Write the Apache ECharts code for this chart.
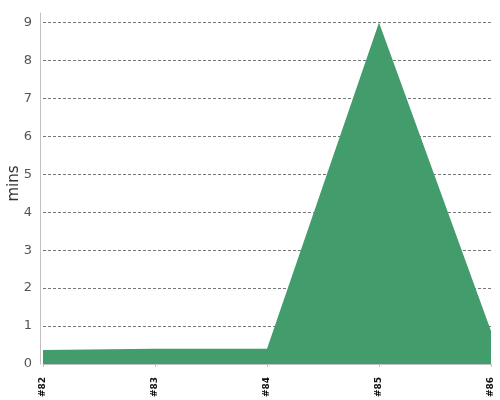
<!DOCTYPE html>
<html>
<head>
<meta charset="utf-8">
<script src="https://cdn.jsdelivr.net/npm/echarts@6/dist/echarts.min.js"></script>
<style>
  html, body { margin: 0; padding: 0; background: #fff; }
  #chart { width: 500px; height: 400px; }
</style>
</head>
<body>
<div id="chart"></div>
<script>
// 构建编号
const builds = ['#82', '#83', '#84', '#85', '#86'];
// 耗时（分钟）
const durations = [0.37, 0.4, 0.4, 9, 0.87];

const chart = echarts.init(document.getElementById('chart'));

chart.setOption({
    animation: false,
    grid: { left: 43, right: 9, top: 13, bottom: 36, outerBoundsMode: 'none', containLabel: false },
    xAxis: {
        type: 'category',
        data: builds,
        boundaryGap: false,
        offset: 4,
        axisLine: { lineStyle: { color: '#c0c0c0' } },
        axisTick: { length: 3, lineStyle: { color: '#c0c0c0' } },
        axisLabel: {
            rotate: 90,
            color: '#111',
            fontSize: 9,
            fontWeight: 'bold',
            fontFamily: 'DejaVu Sans',
            margin: 9
        }
    },
    yAxis: {
        type: 'value',
        min: 0,
        max: 9.25,
        interval: 1,
        offset: 3,
        name: 'mins',
        nameLocation: 'middle',
        nameGap: 18,
        nameMoveOverlap: false,
        nameTextStyle: {
            color: '#333',
            fontSize: 15,
            fontFamily: 'DejaVu Sans',
            padding: [0, 0, 0, 10]
        },
        axisLine: { show: true, lineStyle: { color: '#c0c0c0' } },
        axisTick: { show: false },
        axisLabel: {
            color: '#555',
            fontSize: 13,
            fontFamily: 'DejaVu Sans',
            margin: 8,
            showMaxLabel: false
        },
        splitLine: {
            showMaxLine: false,
            lineStyle: { color: '#777', type: [3, 2], width: 1 }
        }
    },
    series: [{
        type: 'line',
        data: durations,
        symbol: 'none',
        lineStyle: { width: 0 },
        areaStyle: { color: '#439c6c', opacity: 1 },
        z: 3
    }]
});
</script>
</body>
</html>
